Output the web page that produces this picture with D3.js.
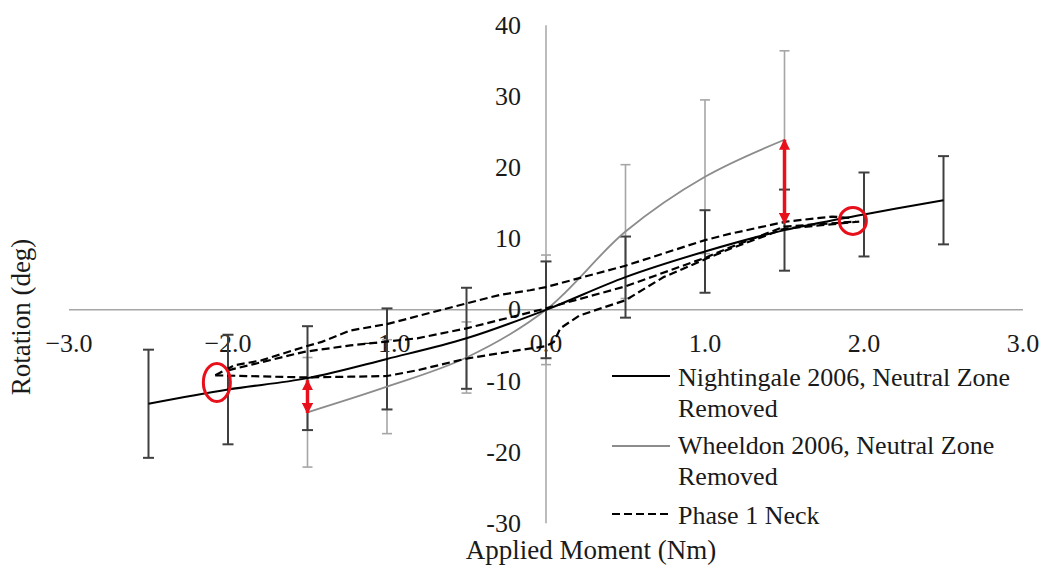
<!DOCTYPE html>
<html>
<head>
<meta charset="utf-8">
<script src="https://cdn.jsdelivr.net/npm/d3@7"></script>
<style>
  body { margin: 0; background: #fff; }
</style>
</head>
<body>
<div id="chart"></div>
<script>
// chart size
var width = 1045;
var height = 574;

// Nightingale 2006 (solid black) with error bars
var ngX   = [-2.5, -2.0, -1.5, -1.0, -0.5, 0.0, 0.5, 1.0, 1.5, 2.0, 2.5];
var ngY   = [-13.2, -11.2, -9.6, -6.9, -4.0, 0.0, 4.6, 8.2, 11.2, 13.4, 15.4];
var ngErr = [7.6, 7.7, 7.3, 7.1, 7.1, 6.8, 5.7, 5.8, 5.7, 5.9, 6.2];

// Wheeldon 2006 (grey) with error bars
var whX   = [-1.5, -1.0, -0.5, 0.0, 0.5, 1.0, 1.5];
var whY   = [-14.4, -10.8, -6.7, 0.0, 11.0, 18.7, 23.9];
var whErr = [7.7, 6.6, 5.0, 7.7, 9.4, 10.8, 12.5];

// Phase 1 Neck (dashed)
var p1Upper = [[-2.08,-9.2],[-1.96,-7.8],[-1.79,-7.1],[-1.52,-5.2],[-1.41,-4.5],[-1.23,-2.9],
               [-1.0,-2.0],[-0.5,0.9],[-0.29,2.1],[-0.1,2.75],[0.0,3.2],[0.5,6.2],[1.0,9.8],
               [1.16,10.7],[1.51,12.4],[1.8,13.1],[1.93,12.9]];
var p1Mid   = [[-2.0,-8.5],[-1.52,-5.9],[-1.23,-5.0],[-0.81,-4.0],[-0.5,-2.6],[-0.18,-0.8],
               [0.0,0.2],[0.11,0.9],[0.5,3.3],[1.01,7.4],[1.16,8.8],[1.5,11.7],[1.95,12.4]];
var p1Lower = [[-2.08,-9.2],[-1.52,-9.5],[-1.23,-9.4],[-1.0,-9.3],[-0.81,-8.5],[-0.5,-6.85],
               [-0.18,-5.7],[0.0,-5.1],[0.05,-4.5],[0.09,-2.6],[0.21,-0.8],[0.5,1.35],
               [0.74,4.6],[1.01,7.2],[1.16,8.6],[1.5,11.4],[1.97,12.4]];

// axis ticks
var xTicks = [-3, -2, -1, 0, 1, 2, 3];
var yTicks = [-30, -20, -10, 0, 10, 20, 30, 40];

// red annotations: arrows [x, yFrom, yTo] and rings [x, y]
var arrows = [[1.5, 23.9, 12.2], [-1.5, -9.9, -14.5]];
var rings  = [[1.93, 12.5], [-2.07, -10.2]];

var legendNames = [["Nightingale 2006, Neutral Zone", "Removed"],
                   ["Wheeldon 2006, Neutral Zone", "Removed"],
                   ["Phase 1 Neck"]];

// styles
var font = "'Liberation Serif', 'Times New Roman', Times, 'DejaVu Serif', serif";
var text_color = "#1a1a1a";
var axis_color = "#a6a6a6";
var ng_color = "#000000";
var ng_err_color = "#404040";
var wh_color = "#8c8c8c";
var wh_err_color = "#a6a6a6";
var red = "#e8101a";
var font_size = 26;

var svg = d3.select("#chart").append("svg")
    .attr("width", width)
    .attr("height", height)
    .attr("font-family", font);

var x = d3.scaleLinear().domain([-3, 3]).range([69, 1023]);
var y = d3.scaleLinear().domain([-30, 40]).range([523.3, 25.2]);

// axes: plain grey lines crossing at the origin
svg.append("line")
    .attr("x1", x(-3)).attr("x2", x(3))
    .attr("y1", y(0)).attr("y2", y(0))
    .attr("stroke", axis_color).attr("stroke-width", 1.5);
svg.append("line")
    .attr("x1", x(0)).attr("x2", x(0))
    .attr("y1", y(40)).attr("y2", y(-30))
    .attr("stroke", axis_color).attr("stroke-width", 1.5);

svg.append("g").selectAll("text")
    .data(yTicks).enter().append("text")
    .attr("x", 521)
    .attr("y", function(d) { return y(d); })
    .attr("dy", "0.33em")
    .attr("text-anchor", "end")
    .attr("font-family", font)
    .attr("font-size", font_size)
    .attr("fill", text_color)
    .text(function(d) { return d; });

svg.append("g").selectAll("text")
    .data(xTicks).enter().append("text")
    .attr("x", function(d) { return x(d); })
    .attr("y", 352)
    .attr("text-anchor", "middle")
    .attr("font-family", font)
    .attr("font-size", font_size)
    .attr("fill", text_color)
    .text(function(d) { return d3.format(".1f")(d); });

// axis titles
svg.append("text")
    .attr("x", 591).attr("y", 559)
    .attr("text-anchor", "middle")
    .attr("font-family", font)
    .attr("font-size", 27)
    .attr("fill", text_color)
    .text("Applied Moment (Nm)");
svg.append("text")
    .attr("transform", "translate(30,317) rotate(-90)")
    .attr("text-anchor", "middle")
    .attr("font-family", font)
    .attr("font-size", 27)
    .attr("fill", text_color)
    .text("Rotation (deg)");

function errorBars(xs, ys, errs, color, sw, capW) {
    var g = svg.append("g");
    xs.forEach(function(xv, i) {
        var lo = ys[i] - errs[i], hi = ys[i] + errs[i];
        g.append("line")
            .attr("x1", x(xv)).attr("x2", x(xv))
            .attr("y1", y(hi)).attr("y2", y(lo))
            .attr("stroke", color).attr("stroke-width", sw);
        [lo, hi].forEach(function(v) {
            g.append("line")
                .attr("x1", x(xv) - capW / 2).attr("x2", x(xv) + capW / 2)
                .attr("y1", y(v)).attr("y2", y(v))
                .attr("stroke", color).attr("stroke-width", sw);
        });
    });
}

errorBars(whX, whY, whErr, wh_err_color, 1.6, 10);
errorBars(ngX, ngY, ngErr, ng_err_color, 2, 11);

var smooth = d3.line()
    .x(function(d) { return x(d[0]); })
    .y(function(d) { return y(d[1]); })
    .curve(d3.curveCatmullRom.alpha(0.5));

svg.append("path")
    .attr("d", smooth(d3.zip(whX, whY)))
    .attr("fill", "none").attr("stroke", wh_color).attr("stroke-width", 1.8);

svg.append("path")
    .attr("d", smooth(d3.zip(ngX, ngY)))
    .attr("fill", "none").attr("stroke", ng_color).attr("stroke-width", 2);

var rough = d3.line()
    .x(function(d) { return x(d[0]); })
    .y(function(d) { return y(d[1]); });

[p1Upper, p1Mid, p1Lower].forEach(function(pts) {
    svg.append("path")
        .attr("d", rough(pts))
        .attr("fill", "none")
        .attr("stroke", "#000")
        .attr("stroke-width", 2.2)
        .attr("stroke-dasharray", "8,4");
});

// red markup
svg.append("defs").append("marker")
    .attr("id", "redHead")
    .attr("viewBox", "0 -5 10 10")
    .attr("refX", 9).attr("refY", 0)
    .attr("markerWidth", 3.2).attr("markerHeight", 3.2)
    .attr("orient", "auto-start-reverse")
    .append("path")
    .attr("d", "M0,-5L10,0L0,5Z")
    .attr("fill", red);

svg.append("g").selectAll("line")
    .data(arrows).enter().append("line")
    .attr("x1", function(d) { return x(d[0]); })
    .attr("x2", function(d) { return x(d[0]); })
    .attr("y1", function(d) { return y(d[1]); })
    .attr("y2", function(d) { return y(d[2]); })
    .attr("stroke", red).attr("stroke-width", 3.5)
    .attr("marker-start", "url(#redHead)")
    .attr("marker-end", "url(#redHead)");

svg.append("ellipse")
    .attr("cx", x(rings[0][0])).attr("cy", y(rings[0][1]))
    .attr("rx", 13.5).attr("ry", 13.5)
    .attr("fill", "none").attr("stroke", red).attr("stroke-width", 3);
svg.append("ellipse")
    .attr("cx", x(rings[1][0])).attr("cy", y(rings[1][1]))
    .attr("rx", 13.5).attr("ry", 19)
    .attr("fill", "none").attr("stroke", red).attr("stroke-width", 3);

// legend
var legend = svg.append("g");
var legendLineY = [376, 446, 514];
var legendTextY = [386, 454, 524];
var legendStyles = [
    {color: ng_color, sw: 2, dash: null},
    {color: wh_color, sw: 1.8, dash: null},
    {color: "#000", sw: 2.2, dash: "8,4"}
];
legendNames.forEach(function(lines, i) {
    legend.append("line")
        .attr("x1", 612).attr("x2", 670)
        .attr("y1", legendLineY[i]).attr("y2", legendLineY[i])
        .attr("stroke", legendStyles[i].color)
        .attr("stroke-width", legendStyles[i].sw)
        .attr("stroke-dasharray", legendStyles[i].dash);
    var t = legend.append("text")
        .attr("x", 678).attr("y", legendTextY[i])
        .attr("font-family", font)
        .attr("font-size", font_size)
        .attr("fill", text_color);
    lines.forEach(function(s, j) {
        t.append("tspan").attr("x", 678).attr("dy", j == 0 ? 0 : 31).text(s);
    });
});
</script>
</body>
</html>
